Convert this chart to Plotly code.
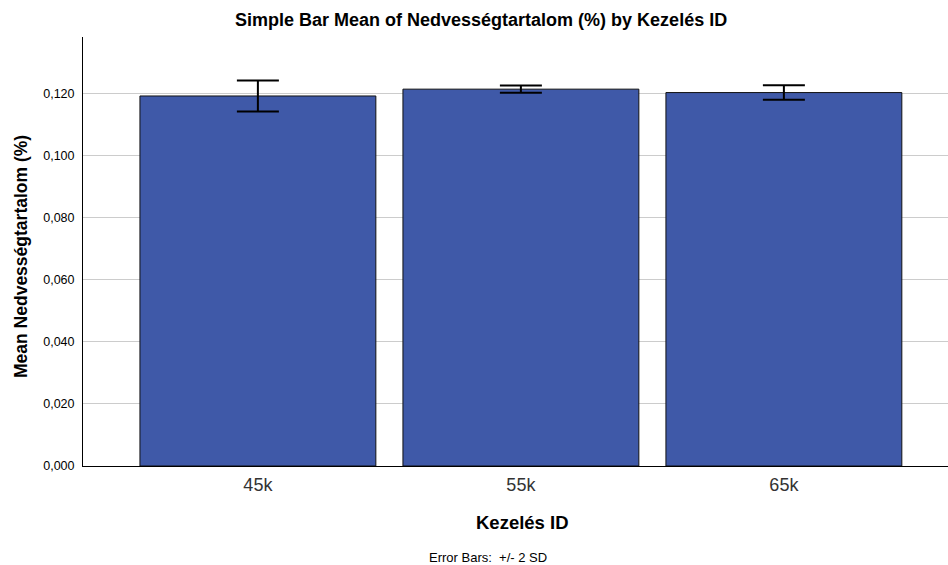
import plotly.graph_objects as go

categories = ["45k", "55k", "65k"]
means = [0.1192, 0.1214, 0.1203]
err_2sd = [0.0050, 0.00115, 0.00235]
y_ticks = [0.0, 0.02, 0.04, 0.06, 0.08, 0.10, 0.12]
y_tick_labels = ["0,000", "0,020", "0,040", "0,060", "0,080", "0,100", "0,120"]

W, H = 948, 565
L, R, T, B = 83, 0, 37, 99
pw = W - L - R

def px_x(px):
    return (px - L) / pw

def px_y(py):
    return (H - B - py) / (H - T - B)

xs = list(range(len(categories)))

fig = go.Figure()
fig.add_trace(go.Bar(
    x=xs, y=means, width=0.897,
    marker=dict(color="#3F59A8", line=dict(color="#111111", width=1)),
    error_y=dict(type="data", array=err_2sd, visible=True, color="black", thickness=2, width=21),
    showlegend=False,
))

fig.update_layout(
    width=W, height=H,
    margin=dict(l=L, r=R, t=T, b=B, pad=0),
    paper_bgcolor="white", plot_bgcolor="white",
    font=dict(family="Liberation Sans, Arial, sans-serif", color="black"),
    xaxis=dict(
        range=[-0.665, 2.624], tickvals=xs, ticktext=categories,
        showgrid=False, zeroline=False, showline=True, linecolor="black", linewidth=1,
        ticks="", tickfont=dict(size=18, color="#333333"), ticklabelstandoff=2,
    ),
    yaxis=dict(
        range=[0, 0.1382], tickvals=y_ticks, ticktext=y_tick_labels,
        showgrid=True, gridcolor="#cccccc", gridwidth=1, zeroline=False,
        showline=True, linecolor="black", linewidth=1,
        ticks="outside", ticklen=5, tickcolor="rgba(0,0,0,0)",
        tickfont=dict(size=12.5, color="black"),
    ),
    annotations=[
        dict(text="<b>Simple Bar Mean of Nedvességtartalom (%) by Kezelés ID</b>",
             x=px_x(481), y=px_y(20), xref="paper", yref="paper",
             xanchor="center", yanchor="middle", showarrow=False,
             font=dict(size=18, color="black")),
        dict(text="<b>Mean Nedvességtartalom (%)</b>", textangle=-90,
             x=px_x(21), y=px_y(257), xref="paper", yref="paper",
             xanchor="center", yanchor="middle", showarrow=False,
             font=dict(size=17.5, color="black")),
        dict(text="<b>Kezelés ID</b>",
             x=px_x(522), y=px_y(522), xref="paper", yref="paper",
             xanchor="center", yanchor="middle", showarrow=False,
             font=dict(size=18.5, color="black")),
        dict(text="Error Bars:  +/- 2 SD",
             x=px_x(488), y=px_y(557), xref="paper", yref="paper",
             xanchor="center", yanchor="middle", showarrow=False,
             font=dict(size=13, color="black")),
    ],
)

fig.write_html("out.html", config={"displayModeBar": False},
               post_script="document.body.style.margin='0';")
